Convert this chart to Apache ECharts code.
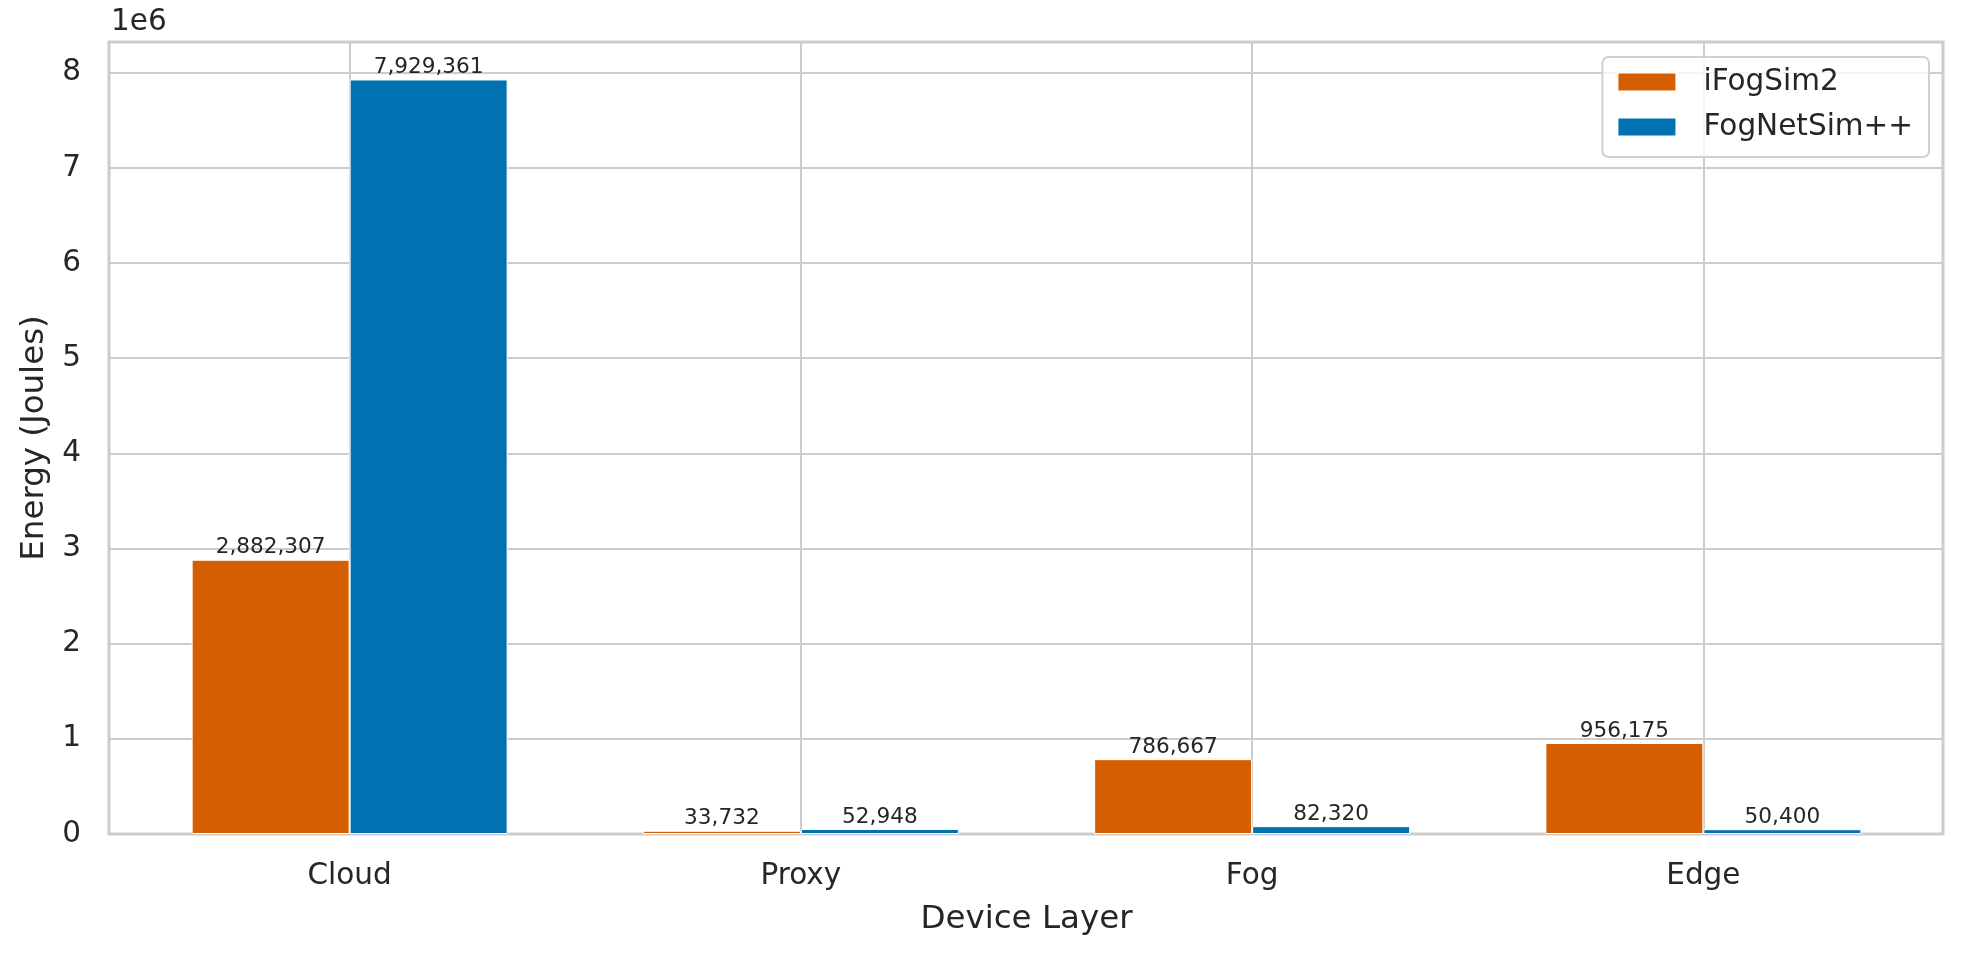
<!DOCTYPE html>
<html>
<head>
<meta charset="utf-8">
<title>Energy by device layer</title>
<script src="https://cdn.jsdelivr.net/npm/echarts@6/dist/echarts.min.js"></script>
<style>
  html, body { margin: 0; padding: 0; background: #fff; }
  #barChart { width: 1962px; height: 959px; }
</style>
</head>
<body>
<div id="barChart"></div>
<script>
const categories = ['Cloud', 'Proxy', 'Fog', 'Edge']
const iFogSim2 = [2882307, 33732, 786667, 956175]
const fogNetSimPP = [7929361, 52948, 82320, 50400]
const yMax = 8323000 // top of the frame, a bit above 8e6

const FONT = 'DejaVu Sans'
const TEXT = '#262626'
const GRID = '#cccccc'

const barLabel = {
  show: true,
  position: 'top',
  distance: 1,
  fontFamily: FONT,
  fontSize: 21.6,
  color: TEXT,
  formatter: p => p.value.toLocaleString('en-US')
}

const chart = echarts.init(document.getElementById('barChart'))

const option = {
  animation: false,
  backgroundColor: '#fff',
  textStyle: { fontFamily: FONT, color: TEXT },
  // grid 0 holds the frame and y gridlines, grid 1 holds the bars (slightly inset like matplotlib xlim)
  grid: [
    { left: 109, right: 19, top: 42, bottom: 125, show: true, borderColor: GRID, borderWidth: 3, backgroundColor: 'transparent' },
    { left: 124, right: 33, top: 42, bottom: 125 }
  ],
  legend: {
    right: 33,
    top: 57,
    orient: 'vertical',
    itemWidth: 59,
    itemHeight: 19,
    itemGap: 15,
    icon: 'rect',
    padding: [10, 16, 15, 14],
    backgroundColor: 'rgba(255,255,255,0.8)',
    borderColor: '#d0d0d0',
    borderWidth: 2,
    borderRadius: 6,
    textStyle: { fontFamily: FONT, fontSize: 29.5, color: TEXT, lineHeight: 30, padding: [0, 0, 0, 22] },
    data: ['iFogSim2', 'FogNetSim++']
  },
  graphic: [
    { type: 'text', left: 111, top: 7, style: { text: '1e6', fontFamily: FONT, fontSize: 29.5, fill: TEXT } }
  ],
  xAxis: [
    { type: 'category', gridIndex: 0, data: categories, show: false },
    {
      type: 'category',
      gridIndex: 1,
      data: categories,
      name: 'Device Layer',
      nameLocation: 'middle',
      nameGap: 69,
      nameTextStyle: { fontFamily: FONT, fontSize: 32.5, color: TEXT },
      axisLine: { show: false },
      axisTick: { show: false },
      axisLabel: { fontFamily: FONT, fontSize: 29.5, color: TEXT, margin: 27 },
      splitLine: { show: true, alignWithLabel: true, lineStyle: { color: GRID, width: 2 } }
    }
  ],
  yAxis: [
    {
      type: 'value',
      gridIndex: 0,
      min: 0,
      max: yMax,
      interval: 1000000,
      name: 'Energy (Joules)',
      nameLocation: 'middle',
      nameGap: 57,
      nameTextStyle: { fontFamily: FONT, fontSize: 32.5, color: TEXT },
      axisLine: { show: false },
      axisTick: { show: false },
      axisLabel: {
        fontFamily: FONT,
        fontSize: 29.5,
        color: TEXT,
        margin: 28,
        showMaxLabel: false,
        formatter: v => String(Math.round(v / 1000000))
      },
      splitLine: { show: true, lineStyle: { color: GRID, width: 2 } }
    },
    { type: 'value', gridIndex: 1, min: 0, max: yMax, show: false, splitLine: { show: false } }
  ],
  series: [
    {
      name: 'iFogSim2',
      type: 'bar',
      xAxisIndex: 1,
      yAxisIndex: 1,
      data: iFogSim2,
      barWidth: 158,
      barGap: '0%',
      itemStyle: { color: '#d55e00', borderColor: '#fff', borderWidth: 1 },
      label: barLabel
    },
    {
      name: 'FogNetSim++',
      type: 'bar',
      xAxisIndex: 1,
      yAxisIndex: 1,
      data: fogNetSimPP,
      barWidth: 158,
      barGap: '0%',
      itemStyle: { color: '#0072b2', borderColor: '#fff', borderWidth: 1 },
      label: barLabel
    }
  ]
}

chart.setOption(option, true)
window.addEventListener('resize', () => chart && chart.resize())
</script>
</body>
</html>
